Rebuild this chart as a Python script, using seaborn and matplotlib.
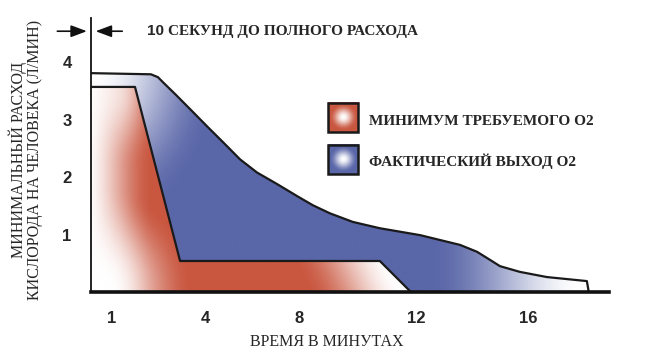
import numpy as np
import matplotlib
matplotlib.use("Agg")
import matplotlib.pyplot as plt
from matplotlib.patches import Polygon, Rectangle
import seaborn as sns
import pandas as pd

# ---- data ----
blue_minutes = [0.0, 2.22, 2.48, 2.67, 3.15, 3.70, 4.33, 4.93, 5.52, 6.15, 6.89,
                7.67, 8.22, 8.85, 9.70, 10.70, 12.19, 13.67, 14.30, 14.78, 15.15,
                15.89, 16.89, 18.37, 18.44]
blue_o2 = [3.81, 3.79, 3.74, 3.65, 3.43, 3.17, 2.87, 2.59, 2.31, 2.08, 1.88,
           1.66, 1.51, 1.37, 1.22, 1.11, 0.99, 0.82, 0.70, 0.56, 0.45,
           0.35, 0.26, 0.19, 0.0]
red_minutes = [0.0, 1.63, 3.30, 10.70, 11.85]
red_o2 = [3.57, 3.57, 0.54, 0.54, 0.0]
xtick_labels = ["1", "4", "8", "12", "16"]
xtick_pos = [0.78, 4.22, 7.70, 12.04, 16.19]
ytick_vals = [1, 2, 3, 4]
legend_labels = ["МИНИМУМ ТРЕБУЕМОГО О2", "ФАКТИЧЕСКИЙ ВЫХОД О2"]
title_num = "10"
title_text = "СЕКУНД ДО ПОЛНОГО РАСХОДА"
ylabel_lines = ["МИНИМАЛЬНЫЙ РАСХОД", "КИСЛОРОДА НА ЧЕЛОВЕКА (Л/МИН)"]
xlabel = "ВРЕМЯ В МИНУТАХ"

RED = np.array([0.79, 0.34, 0.25])
BLUE = np.array([0.35, 0.40, 0.66])

sns.set_theme(style="white")
plt.rcParams['font.family'] = ['Liberation Serif', 'DejaVu Serif']

fig = plt.figure(figsize=(6.46, 3.62), dpi=100)
ax = fig.add_axes([91/646, 70/362, 518/646, 274/362])
XMAX, YMAX = 19.19, 4.77
ax.set_xlim(0, XMAX)
ax.set_ylim(0, YMAX)

def smooth(a, b, v):
    t = np.clip((v - a) / (b - a), 0, 1)
    return t * t * (3 - 2 * t)

X, Y = np.meshgrid(np.linspace(0, XMAX, 600), np.linspace(0, YMAX, 300))

def shade(intensity, color):
    img = 1 - intensity[..., None] * (1 - color[None, None, :])
    return np.clip(img, 0, 1)

# blue gradient
d2 = np.sqrt((X / 4.2) ** 2 + ((4.0 - Y) / 2.6) ** 2)
blue_int = smooth(0.05, 1.15, d2) * (1 - smooth(12.5, 18.3, X))
# red gradient
d1 = np.sqrt((X / 3.6) ** 2 + (Y / 1.8) ** 2)
left = smooth(-0.3, 2.3, X)
top = 1 - 0.65 * smooth(2.2, 3.5, Y) * (1 - smooth(1.0, 2.6, X))
right = 1 - smooth(8.0, 11.6, X + Y)
red_int = left * top * smooth(0.15, 1.05, d1) * right

df_blue = pd.DataFrame({"min": blue_minutes, "o2": blue_o2})
df_red = pd.DataFrame({"min": red_minutes, "o2": red_o2})

blue_poly = Polygon([(0, 0)] + list(zip(blue_minutes, blue_o2)), closed=True,
                    facecolor="none", edgecolor="none", transform=ax.transData)
ax.add_patch(blue_poly)
im_b = ax.imshow(shade(blue_int, BLUE), extent=[0, XMAX, 0, YMAX], origin="lower",
                 aspect="auto", zorder=1, interpolation="bilinear")
im_b.set_clip_path(blue_poly)
sns.lineplot(data=df_blue, x="min", y="o2", sort=False, estimator=None,
             color="#1a1a1a", linewidth=1.6, ax=ax, zorder=3)

red_poly = Polygon([(0, 0)] + list(zip(red_minutes, red_o2)), closed=True,
                   facecolor="none", edgecolor="none", transform=ax.transData)
ax.add_patch(red_poly)
im_r = ax.imshow(shade(red_int, RED), extent=[0, XMAX, 0, YMAX], origin="lower",
                 aspect="auto", zorder=4, interpolation="bilinear")
im_r.set_clip_path(red_poly)
sns.lineplot(data=df_red, x="min", y="o2", sort=False, estimator=None,
             color="#1a1a1a", linewidth=1.6, ax=ax, zorder=5)
for ln in ax.lines:
    ln.set_solid_joinstyle("round")

# spines
for s in ["top", "right"]:
    ax.spines[s].set_visible(False)
ax.spines["left"].set_color("#111111")
ax.spines["left"].set_linewidth(1.3)
ax.spines["bottom"].set_color("#111111")
ax.spines["bottom"].set_linewidth(2.6)
ax.spines["left"].set_zorder(6)
ax.spines["bottom"].set_zorder(6)

ax.set_xticks(xtick_pos)
ax.set_xticklabels(xtick_labels, fontfamily="Liberation Sans", fontweight="bold", fontsize=12)
ax.set_yticks(ytick_vals)
ax.set_yticklabels([str(v) for v in ytick_vals], fontfamily="Liberation Sans",
                   fontweight="bold", fontsize=12)
ax.tick_params(axis="both", length=0)
ax.tick_params(axis="x", pad=14)
ax.tick_params(axis="y", pad=14)
ax.set_xlabel("")
ax.set_ylabel("")

# axis labels
fig.text(327/646, 1 - 342/362, xlabel, ha="center", va="center", fontsize=11.5)
fig.text(18/646, 1 - 160/362, ylabel_lines[0], ha="center", va="center",
         rotation=90, fontsize=11.5)
fig.text(35/646, 1 - 160/362, ylabel_lines[1], ha="center", va="center",
         rotation=90, fontsize=11.5)

# arrows and top text
ya = 4.54
ax.annotate("", xy=(-0.05, ya), xytext=(-1.35, ya), annotation_clip=False,
            arrowprops=dict(arrowstyle="-|>,head_length=0.8,head_width=0.3",
                            color="#111111", lw=1.2))
ax.annotate("", xy=(0.07, ya), xytext=(1.26, ya), annotation_clip=False,
            arrowprops=dict(arrowstyle="-|>,head_length=0.8,head_width=0.3",
                            color="#111111", lw=1.2))
ax.text(2.07, ya, title_num, ha="left", va="center", fontfamily="Liberation Sans",
        fontweight="bold", fontsize=11, clip_on=False)
ax.text(2.85, ya, title_text, ha="left", va="center", fontweight="bold",
        fontsize=11, clip_on=False)

# legend squares with radial gradient
def legend_square(x0, x1, y0, y1, color):
    gx, gy = np.meshgrid(np.linspace(-1, 1, 60), np.linspace(-1, 1, 60))
    r = np.sqrt(gx ** 2 + gy ** 2)
    inten = smooth(0.0, 0.9, r)
    ax.imshow(shade(inten, color), extent=[x0, x1, y0, y1], origin="lower",
              aspect="auto", zorder=7, interpolation="bilinear")
    ax.add_patch(Rectangle((x0, y0), x1 - x0, y1 - y0, facecolor="none",
                           edgecolor="#1a1a1a", linewidth=1.8, zorder=8))

legend_square(8.78, 9.90, 2.78, 3.29, RED)
legend_square(8.78, 9.90, 2.05, 2.56, BLUE)
ax.text(10.30, 2.97, legend_labels[0], ha="left", va="center", fontweight="bold",
        fontsize=11, zorder=9)
ax.text(10.30, 2.28, legend_labels[1], ha="left", va="center", fontweight="bold",
        fontsize=11, zorder=9)

ax.set_xlim(0, XMAX)
ax.set_ylim(0, YMAX)
fig.savefig("out.png", dpi=100)
